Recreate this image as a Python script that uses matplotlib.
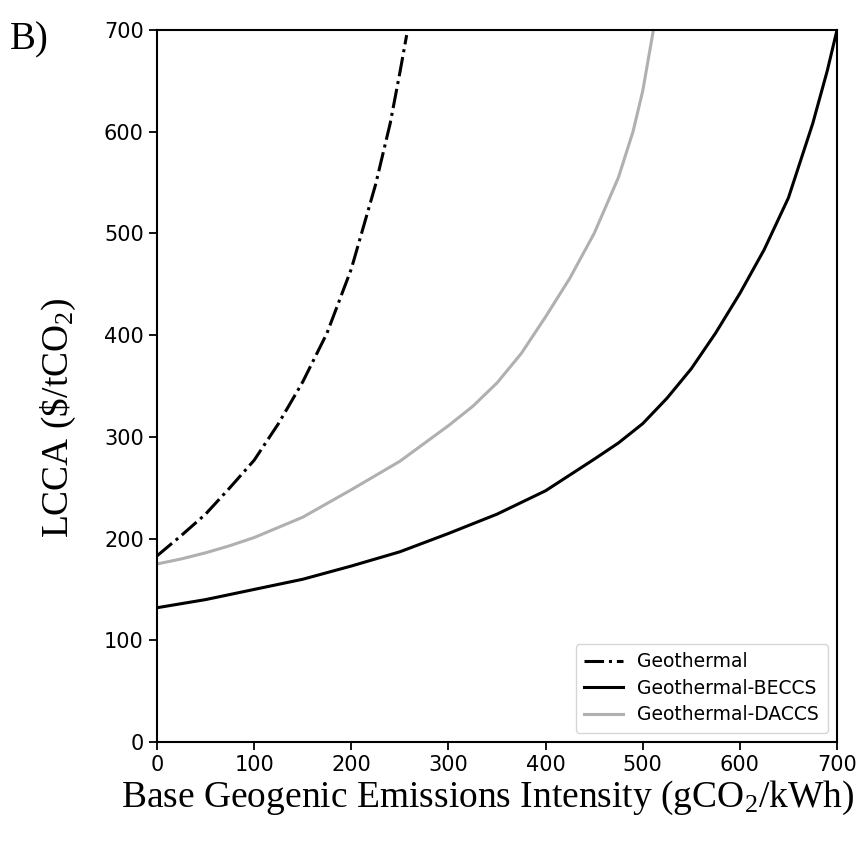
import matplotlib
matplotlib.use("Agg")
import matplotlib.pyplot as plt

plt.rcParams['mathtext.fontset'] = 'custom'
plt.rcParams['mathtext.rm'] = 'Liberation Serif'
plt.rcParams['mathtext.it'] = 'Liberation Serif:italic'

# Data
geo_x = [0, 25, 50, 75, 100, 125, 150, 175, 200, 225, 240, 250, 257]
geo_y = [183, 203, 224, 250, 277, 313, 354, 402, 465, 548, 608, 658, 695]

beccs_x = [0, 50, 100, 150, 200, 250, 300, 350, 400, 450, 475, 500, 525, 550, 575,
           600, 625, 650, 675, 690, 700]
beccs_y = [132, 140, 150, 160, 173, 187, 205, 224, 247, 278, 294, 313, 338, 367, 402,
           441, 484, 535, 608, 660, 700]

daccs_x = [0, 25, 50, 75, 100, 150, 200, 250, 300, 325, 350, 375, 400, 425, 450,
           475, 490, 500, 511]
daccs_y = [175, 180, 186, 193, 201, 221, 248, 276, 311, 330, 353, 382, 418, 456, 500,
           555, 600, 640, 700]

labels = ["Geothermal", "Geothermal-BECCS", "Geothermal-DACCS"]
x_ticks = [0, 100, 200, 300, 400, 500, 600, 700]
y_ticks = [0, 100, 200, 300, 400, 500, 600, 700]

fig = plt.figure(figsize=(8.62, 8.44), dpi=100)
ax = fig.add_axes([157/862, 1-742/844, (837-157)/862, (742-30)/844])

ax.plot(geo_x, geo_y, color='black', linestyle='-.', linewidth=2.2, label=labels[0])
ax.plot(beccs_x, beccs_y, color='black', linestyle='-', linewidth=2.2, label=labels[1])
ax.plot(daccs_x, daccs_y, color='#b0b0b0', linestyle='-', linewidth=2.2, label=labels[2])

ax.set_xlim(0, 700)
ax.set_ylim(0, 700)
ax.set_xticks(x_ticks)
ax.set_yticks(y_ticks)
ax.tick_params(labelsize=15, length=6, width=1.3)
for s in ax.spines.values():
    s.set_linewidth(1.5)

ax.set_xlabel(r"Base Geogenic Emissions Intensity (gCO$_2$/kWh)", fontfamily='Liberation Serif', fontsize=27)
ax.set_ylabel(r"LCCA (\$/tCO$_2$)", fontfamily='Liberation Serif', fontsize=27)
ax.xaxis.set_label_coords(0.486, -0.051)
ax.yaxis.set_label_coords(-0.116, 0.455)

ax.legend(loc='lower right', fontsize=13.5, frameon=True, handlelength=2.1,
          handletextpad=0.75, labelspacing=0.4, borderpad=0.45)

fig.text(10/862, 1-40/844, "B)", fontfamily='Liberation Serif', fontsize=28, va='center', ha='left')

fig.savefig("out.png", dpi=100)
